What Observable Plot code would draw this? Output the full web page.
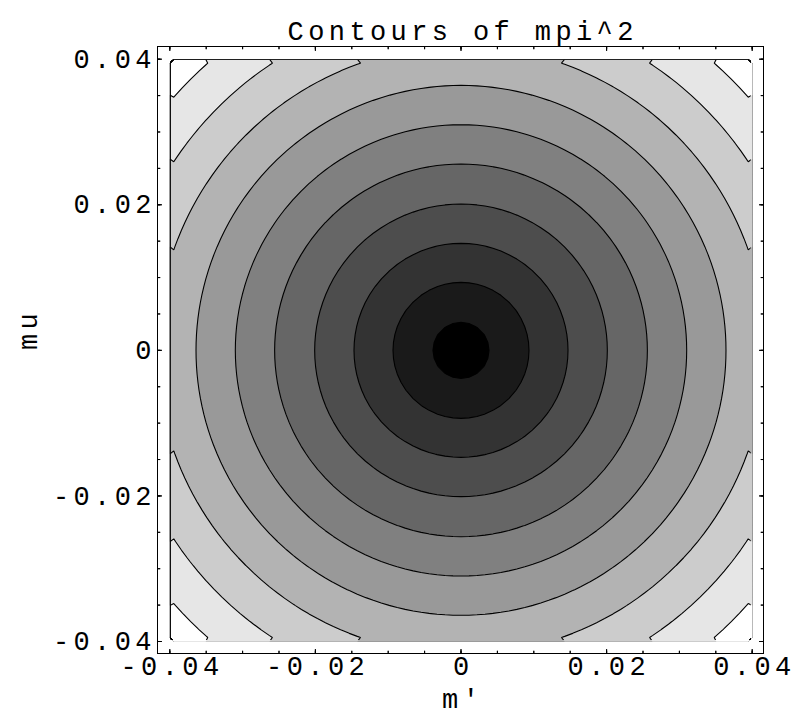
<!DOCTYPE html>
<html>
<head>
<meta charset="utf-8">
<script src="https://cdn.jsdelivr.net/npm/d3@7"></script>
<script src="https://cdn.jsdelivr.net/npm/@observablehq/plot@0.6"></script>
<style>
  html, body { margin: 0; padding: 0; background: white; }
</style>
</head>
<body>
<div id="chart"></div>
<script>
// ---- data ----
const title = "Contours of mpi^2";
const xLabel = "m\u2032";
const yLabel = "mu";
const domainX = [-0.04, 0.04];
const domainY = [-0.04, 0.04];
// contour levels of mpi^2 (radial levels, equally spaced)
const levels = [0.00385, 0.00934, 0.0147, 0.0201, 0.0256, 0.0310, 0.0364, 0.0418, 0.0472, 0.0526];
// band fills, innermost (black) to outermost (white)
const bandGrays = ["#000000", "#1a1a1a", "#333333", "#4d4d4d", "#666666", "#808080",
                   "#999999", "#b3b3b3", "#cccccc", "#e6e6e6", "#ffffff"];
const majorTicks = [-0.04, -0.02, 0, 0.02, 0.04];
const tickLabels = ["-0.04", "-0.02", "0", "0.02", "0.04"];
const minorTicks = [-0.04, -0.035, -0.03, -0.025, -0.02, -0.015, -0.01, -0.005, 0,
                    0.005, 0.01, 0.015, 0.02, 0.025, 0.03, 0.035, 0.04];

// field sampled by the contour mark
const field = (x, y) => Math.hypot(x, y);

const LS = 4.4; // letter spacing
const tickOpts = (len) => ({length: len, anchor: "start", shape: "spike", r: 0.001,
                            stroke: "black", fill: "none", strokeWidth: 1});

const plot = Plot.plot({
  width: 810,
  height: 720,
  marginLeft: 157,
  marginRight: 47,
  marginTop: 46,
  marginBottom: 67,
  style: {fontFamily: "'Liberation Mono', monospace", fontSize: "27px",
          letterSpacing: LS + "px", background: "white", color: "black"},
  x: {domain: domainX, insetLeft: 12.3, insetRight: 11.3, axis: null},
  y: {domain: domainY, insetTop: 12.7, insetBottom: 12, axis: null},
  color: {type: "threshold", domain: levels, range: bandGrays},
  marks: [
    Plot.contour({
      value: field, x1: domainX[0], x2: domainX[1], y1: domainY[0], y2: domainY[1],
      thresholds: [0, ...levels], fill: "value", stroke: "none", pixelSize: 8
    }),
    Plot.contour({
      value: field, x1: domainX[0], x2: domainX[1], y1: domainY[0], y2: domainY[1],
      thresholds: levels, fill: "none", stroke: "black", strokeWidth: 1.1, pixelSize: 8
    }),
    Plot.frame({stroke: "black", strokeWidth: 1}),
    // inward ticks on all four sides
    Plot.vector(minorTicks, {x: d => d, frameAnchor: "bottom", rotate: 0, ...tickOpts(2.7)}),
    Plot.vector(majorTicks, {x: d => d, frameAnchor: "bottom", rotate: 0, ...tickOpts(4.3)}),
    Plot.vector(minorTicks, {x: d => d, frameAnchor: "top", rotate: 180, ...tickOpts(2.7)}),
    Plot.vector(majorTicks, {x: d => d, frameAnchor: "top", rotate: 180, ...tickOpts(4.3)}),
    Plot.vector(minorTicks, {y: d => d, frameAnchor: "left", rotate: 90, ...tickOpts(2.7)}),
    Plot.vector(majorTicks, {y: d => d, frameAnchor: "left", rotate: 90, ...tickOpts(4.3)}),
    Plot.vector(minorTicks, {y: d => d, frameAnchor: "right", rotate: -90, ...tickOpts(2.7)}),
    Plot.vector(majorTicks, {y: d => d, frameAnchor: "right", rotate: -90, ...tickOpts(4.3)}),
    // tick labels
    Plot.text(majorTicks, {x: d => d, frameAnchor: "bottom", dy: 21.4, dx: LS / 2,
                           text: (d, i) => tickLabels[i], fill: "black"}),
    Plot.text(majorTicks, {y: d => d, frameAnchor: "left", textAnchor: "end", dx: -6 + LS,
                           text: (d, i) => tickLabels[i], fill: "black"}),
    // title and axis labels
    Plot.text([title], {frameAnchor: "top", dy: -25.3, dx: LS / 2, text: d => d, fill: "black"}),
    Plot.text([xLabel], {frameAnchor: "bottom", dy: 54.4, dx: LS / 2, text: d => d, fill: "black"}),
    Plot.text([yLabel], {frameAnchor: "left", dx: -128.9, rotate: -90, text: d => d, fill: "black"})
  ]
});

// clip the contour-line mark to the filled region so the region's border is not stroked
(function clipLines() {
  const sx = plot.scale("x"), sy = plot.scale("y");
  const ns = "http://www.w3.org/2000/svg";
  const x0 = sx.apply(domainX[0]), x1 = sx.apply(domainX[1]);
  const y0 = sy.apply(domainY[1]), y1 = sy.apply(domainY[0]);
  const defs = document.createElementNS(ns, "defs");
  const cp = document.createElementNS(ns, "clipPath");
  cp.setAttribute("id", "clip-lines");
  cp.setAttribute("clipPathUnits", "userSpaceOnUse");
  const rect = document.createElementNS(ns, "rect");
  rect.setAttribute("x", x0 + 1);
  rect.setAttribute("y", y0 + 1);
  rect.setAttribute("width", x1 - x0 - 2);
  rect.setAttribute("height", y1 - y0 - 2);
  cp.appendChild(rect);
  defs.appendChild(cp);
  plot.insertBefore(defs, plot.firstChild);
  const groups = Array.from(plot.children).filter(el =>
    el.tagName.toLowerCase() === "g" && (el.getAttribute("aria-label") || "").startsWith("contour"));
  const lines = groups[groups.length - 1];
  if (lines) {
    // wrap in an untransformed group so the clip rect is in plot coordinates
    const wrap = document.createElementNS(ns, "g");
    wrap.setAttribute("clip-path", "url(#clip-lines)");
    plot.insertBefore(wrap, lines);
    wrap.appendChild(lines);
  }
})();

document.getElementById("chart").appendChild(plot);
</script>
</body>
</html>
